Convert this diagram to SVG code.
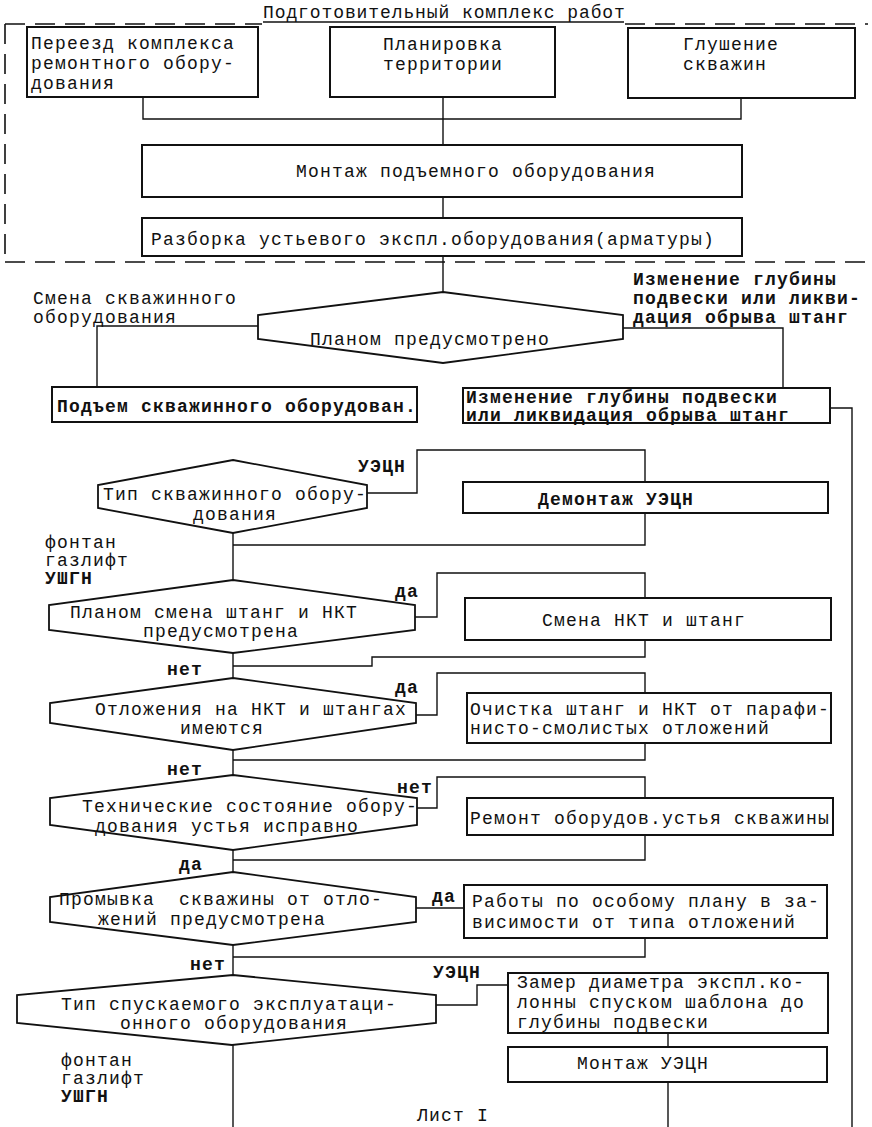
<svg xmlns="http://www.w3.org/2000/svg" width="872" height="1127" viewBox="0 0 872 1127">
<style>
text{font-family:"Liberation Mono","DejaVu Sans Mono",monospace;font-size:18px;letter-spacing:1.2px;fill:#111}
.b{font-weight:bold}
.pre{white-space:pre}
.box{fill:#fff;stroke:#111;stroke-width:2}
.hex{fill:#fff;stroke:#111;stroke-width:1.8}
.ln{fill:none;stroke:#111;stroke-width:1.4}
.dash{fill:none;stroke:#111;stroke-width:1.6;stroke-dasharray:20 10}
</style>
<rect width="872" height="1127" fill="#fff"/>

<g id="frame">
<path class="dash" d="M5,24 H262 M625,24 H868 M5,24 V262 M5,262 H868"/>
<text x="263" y="18" style="letter-spacing:0.9px">Подготовительный комплекс работ</text>
<line x1="263" y1="22" x2="624" y2="22" stroke="#111" stroke-width="1.4"/>
</g>

<g id="connectors">
<path class="ln" d="M143,97 V119 H741 V98 M443,97 V145"/>
<path class="ln" d="M443,197 V218"/>
<path class="ln" d="M443,256 V292"/>
<path class="ln" d="M258,326 H97 V387"/>
<path class="ln" d="M623,328 H783 V388"/>
<path class="ln" d="M830,408 H852 V1127"/>
<path class="ln" d="M367,493 H417 V450 H645 V482"/>
<path class="ln" d="M645,513 V545 H233"/>
<path class="ln" d="M233,533 V580"/>
<path class="ln" d="M415,617 H437 V573 H645 V598"/>
<path class="ln" d="M645,640 V657 H372 V666 H233"/>
<path class="ln" d="M233,653 V678"/>
<path class="ln" d="M416,715 H437 V673 H645 V693"/>
<path class="ln" d="M645,743 V760 H233"/>
<path class="ln" d="M233,750 V775"/>
<path class="ln" d="M417,808 H437 V777 H645 V798"/>
<path class="ln" d="M645,835 V860 H233"/>
<path class="ln" d="M233,850 V872"/>
<path class="ln" d="M416,908 H464"/>
<path class="ln" d="M645,938 V957 H233"/>
<path class="ln" d="M233,945 V975"/>
<path class="ln" d="M436,1005 H477 V985 H508"/>
<path class="ln" d="M668,1033 V1047"/>
<path class="ln" d="M668,1082 V1127"/>
<path class="ln" d="M233,1045 V1127"/>
</g>

<g id="n-pereezd">
<rect class="box" x="27" y="27" width="231" height="70"/>
<text x="31" y="49">Переезд комплекса</text>
<text x="31" y="69">ремонтного обору-</text>
<text x="31" y="89">дования</text>
</g>

<g id="n-planirovka">
<rect class="box" x="330" y="27" width="225" height="70"/>
<text x="383" y="50">Планировка</text>
<text x="383" y="70">территории</text>
</g>

<g id="n-glushenie">
<rect class="box" x="628" y="28" width="227" height="70"/>
<text x="683" y="50">Глушение</text>
<text x="683" y="70">скважин</text>
</g>

<g id="n-montazh-podem">
<rect class="box" x="142" y="145" width="600" height="52"/>
<text x="296" y="177">Монтаж подъемного оборудования</text>
</g>

<g id="n-razborka">
<rect class="box" x="142" y="218" width="600" height="38"/>
<text x="151" y="245">Разборка устьевого экспл.оборудования(арматуры)</text>
</g>

<g id="n-plan1">
<polygon class="hex" points="443,292 623,315 623,339 443,363 258,339 258,315"/>
<text x="310" y="345">Планом предусмотрено</text>
</g>

<g id="labels-plan1">
<text x="33" y="304">Смена скважинного</text>
<text x="33" y="323">оборудования</text>
<text x="633" y="285" class="b">Изменение глубины</text>
<text x="633" y="304" class="b">подвески или ликви-</text>
<text x="633" y="323" class="b">дация обрыва штанг</text>
</g>

<g id="n-podem">
<rect class="box" x="52" y="387" width="365" height="35"/>
<text x="57" y="412" class="b">Подъем скважинного оборудован.</text>
</g>

<g id="n-izmenenie">
<rect class="box" x="463" y="388" width="367" height="35"/>
<text x="466" y="403" class="b">Изменение глубины подвески</text>
<text x="466" y="421" class="b">или ликвидация обрыва штанг</text>
</g>

<g id="n-tip1">
<polygon class="hex" points="233,460 367,485 367,508 233,533 98,508 98,485"/>
<text x="103" y="500">Тип скважинного обору-</text>
<text x="193" y="520">дования</text>
<text x="358" y="472" class="b">УЭЦН</text>
<text x="45" y="548">фонтан</text>
<text x="45" y="566">газлифт</text>
<text x="45" y="584" class="b">УШГН</text>
</g>

<g id="n-demontazh">
<rect class="box" x="463" y="482" width="365" height="31"/>
<text x="538" y="505" class="b">Демонтаж УЭЦН</text>
</g>

<g id="n-plan2">
<polygon class="hex" points="233,580 415,605 415,630 233,653 49,630 49,605"/>
<text x="70" y="618">Планом смена штанг и НКТ</text>
<text x="143" y="637">предусмотрена</text>
<text x="395" y="597" class="b">да</text>
<text x="167" y="675" class="b">нет</text>
</g>

<g id="n-smena">
<rect class="box" x="465" y="598" width="366" height="42"/>
<text x="542" y="626">Смена НКТ и штанг</text>
</g>

<g id="n-otlozh">
<polygon class="hex" points="233,678 416,703 416,723 233,750 50,723 50,703"/>
<text x="95" y="715">Отложения на НКТ и штангах</text>
<text x="180" y="734">имеются</text>
<text x="395" y="693" class="b">да</text>
<text x="167" y="775" class="b">нет</text>
</g>

<g id="n-ochistka">
<rect class="box" x="467" y="693" width="364" height="50"/>
<text x="470" y="715">Очистка штанг и НКТ от парафи-</text>
<text x="470" y="734">нисто-смолистых отложений</text>
</g>

<g id="n-tehsost">
<polygon class="hex" points="233,775 417,798 417,825 233,850 50,825 50,798"/>
<text x="82" y="812">Технические состояние обору-</text>
<text x="95" y="832">дования устья исправно</text>
<text x="397" y="793" class="b">нет</text>
<text x="179" y="870" class="b">да</text>
</g>

<g id="n-remont">
<rect class="box" x="467" y="798" width="366" height="37"/>
<text x="470" y="824">Ремонт оборудов.устья скважины</text>
</g>

<g id="n-promyvka">
<polygon class="hex" points="233,872 416,897 416,922 233,945 50,922 50,897"/>
<text x="59" y="905" class="pre">Промывка  скважины от отло-</text>
<text x="98" y="925">жений предусмотрена</text>
<text x="432" y="902" class="b">да</text>
<text x="190" y="970" class="b">нет</text>
</g>

<g id="n-raboty">
<rect class="box" x="464" y="885" width="363" height="53"/>
<text x="472" y="907">Работы по особому плану в за-</text>
<text x="472" y="928">висимости от типа отложений</text>
</g>

<g id="n-tip2">
<polygon class="hex" points="233,975 436,995 436,1023 232,1045 17,1023 17,995"/>
<text x="61" y="1010">Тип спускаемого эксплуатаци-</text>
<text x="120" y="1029">онного оборудования</text>
<text x="433" y="978" class="b">УЭЦН</text>
<text x="61" y="1066">фонтан</text>
<text x="61" y="1084">газлифт</text>
<text x="61" y="1102" class="b">УШГН</text>
</g>

<g id="n-zamer">
<rect class="box" x="508" y="973" width="320" height="60"/>
<text x="517" y="988">Замер диаметра экспл.ко-</text>
<text x="517" y="1008">лонны спуском шаблона до</text>
<text x="517" y="1028">глубины подвески</text>
</g>

<g id="n-montazh-uecn">
<rect class="box" x="508" y="1047" width="319" height="35"/>
<text x="577" y="1069">Монтаж УЭЦН</text>
</g>

<g id="footer">
<text x="417" y="1121">Лист I</text>
</g>
</svg>
